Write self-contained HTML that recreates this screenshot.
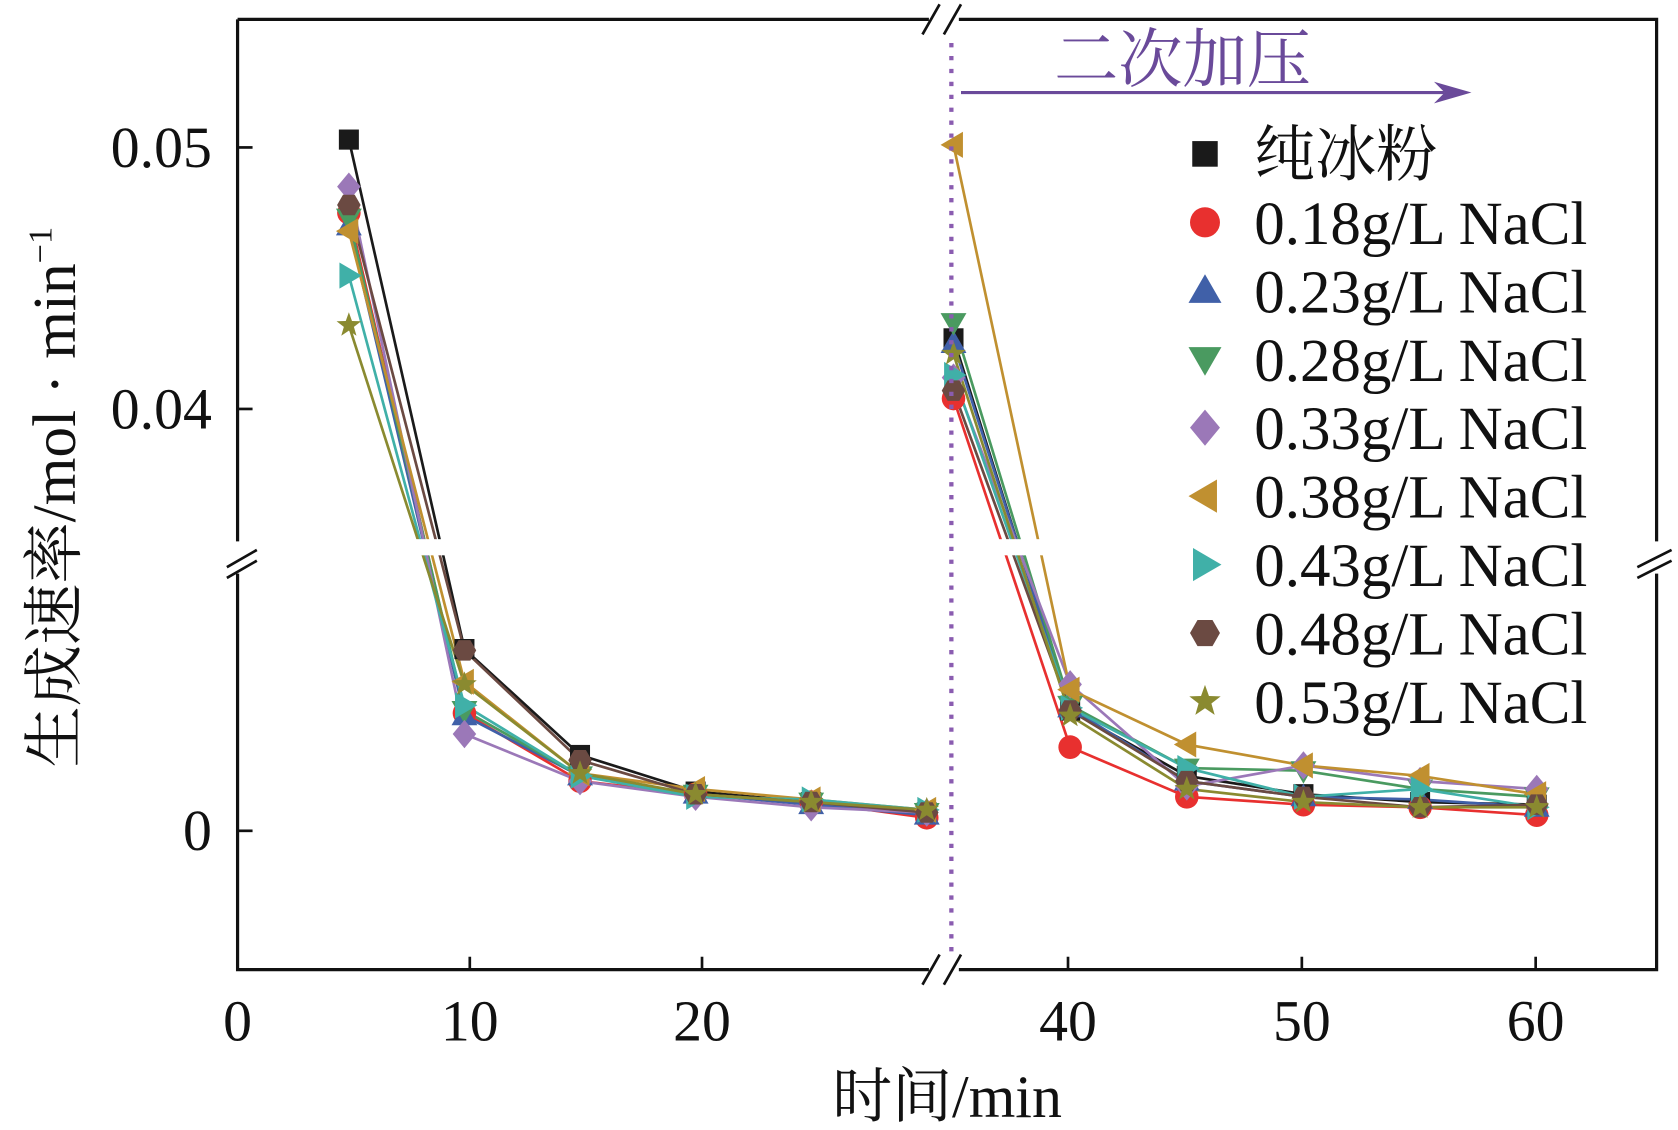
<!DOCTYPE html>
<html><head><meta charset="utf-8"><style>
html,body{margin:0;padding:0;background:#fff;}
svg{display:block;}
text{font-family:"Liberation Serif","Noto Serif CJK SC","Noto Sans CJK SC",serif;}
</style></head><body>
<svg id="chart" width="1678" height="1130" viewBox="0 0 1568 1050" preserveAspectRatio="none" xmlns="http://www.w3.org/2000/svg">
<g id="plot"></g>
<g id="frame" stroke="#111" stroke-width="3" fill="none">
  <path d="M222,18 H868 M896,18 H1548 V503 M1548,533 V901 H896 M868,901 H222 V533 M222,503 V18"/>
  <path d="M862,32 L878,4 M882,32 L898,4 M862,915 L878,887 M882,915 L898,887 M212,527 L240,511 M212,537 L240,521 M1530,527 L1562,511 M1530,537 L1562,521" stroke-width="2.5"/>
</g>
<g id="ticks" stroke="#111" stroke-width="2.5"></g>
<g id="labels" font-size="54" fill="#111"></g>
<text x="885" y="1038" font-size="56" text-anchor="middle" fill="#111">时间/min</text>
<text transform="translate(70,462) rotate(-90)" font-size="57" text-anchor="middle" fill="#111">生成速率/mol · min<tspan font-size="32" dy="-22">−1</tspan></text>
<line x1="889" y1="40" x2="889" y2="890" stroke="#8a5cb0" stroke-width="4" stroke-dasharray="4,8"/>
<text x="1105" y="76" font-size="60" text-anchor="middle" fill="#6a4a9a">二次加压</text>
<g>
<line x1="898" y1="86" x2="1350" y2="86" stroke="#6a4a9a" stroke-width="3"/>
<polygon points="1375,86 1340,76 1350,86 1340,96" fill="#6a4a9a"/>
</g>
<g id="legend"></g>
</svg>
<script>
const names = ["纯冰粉","0.18g/L NaCl","0.23g/L NaCl","0.28g/L NaCl","0.33g/L NaCl","0.38g/L NaCl","0.43g/L NaCl","0.48g/L NaCl","0.53g/L NaCl"];
const colors = ["#1a1a1a","#e8302f","#4060a8","#4a9a60","#9b78b8","#c09030","#40b0a8","#6b4a42","#8a8a30"];
const shapes = ["square","circle","up","down","diamond","left","right","hex","star"];
const times = [5,10,15,20,25,30,35,40,45,50,55,60];
const sPure = [0.0503,0.00695,0.0029,0.0015,0.0011,0.0007,0.0427,0.0046,0.0021,0.0014,0.0011,0.0010];
const s018 = [0.0475,0.0045,0.0019,0.0014,0.0011,0.0005,0.0404,0.0032,0.0013,0.0010,0.0009,0.0006];
const s023 = [0.0470,0.0044,0.0021,0.0014,0.0010,0.0006,0.0425,0.0047,0.0019,0.0013,0.0012,0.0009];
const s028 = [0.0473,0.0046,0.0021,0.0014,0.0011,0.0007,0.0433,0.0048,0.0024,0.0023,0.0016,0.0013];
const s033 = [0.0485,0.0037,0.0019,0.0013,0.0009,0.0007,0.0412,0.0056,0.0017,0.0025,0.0019,0.0016];
const s038 = [0.0468,0.0057,0.0022,0.0016,0.0012,0.0008,0.0501,0.0054,0.0033,0.0025,0.0021,0.0014];
const s043 = [0.0451,0.0048,0.0021,0.0013,0.0012,0.0008,0.0413,0.0047,0.0024,0.0013,0.0016,0.0009];
const s048 = [0.0478,0.0069,0.0027,0.0014,0.0011,0.0007,0.0407,0.0046,0.0019,0.0013,0.0009,0.0010];
const s053 = [0.0432,0.0056,0.0022,0.0014,0.0011,0.0008,0.0421,0.0044,0.0016,0.0011,0.0009,0.0009];
const series = [sPure,s018,s023,s028,s033,s038,s043,s048,s053];
const xTicksLeft = [0,10,20];
const xTicksRight = [40,50,60];
const yTickVals = [0.05,0.04,0];
const yTickLabels = ["0.05","0.04","0"];

const NS="http://www.w3.org/2000/svg";
function xs(t){ return t<=32 ? 222+t*21.6-4 : 1000+(t-40)*21.8; }
function xt(t){ return t<=32 ? 222+t*21.7 : 998+(t-40)*21.85; }
function ys(v){
  if(v>=0.035) return 137+(0.05-v)*24300;
  if(v<=0.0105) return 772-v*24300;
  return 517-(v-0.0105)/(0.035-0.0105)*15.5;
}
function mk(tag,attrs,parent){const e=document.createElementNS(NS,tag);for(const k in attrs)e.setAttribute(k,attrs[k]);parent.appendChild(e);return e;}
function marker(shape,cx,cy,r,color,parent){
  let e;
  const p=(pts)=>mk("polygon",{points:pts.map(a=>a.join(",")).join(" "),fill:color},parent);
  if(shape==="square") e=mk("rect",{x:cx-r*0.85,y:cy-r*0.85,width:r*1.7,height:r*1.7,fill:color},parent);
  else if(shape==="circle") e=mk("circle",{cx:cx,cy:cy,r:r,fill:color},parent);
  else if(shape==="up") e=p([[cx,cy-r*1.1],[cx+r*1.1,cy+r*0.8],[cx-r*1.1,cy+r*0.8]]);
  else if(shape==="down") e=p([[cx,cy+r*1.1],[cx+r*1.1,cy-r*0.8],[cx-r*1.1,cy-r*0.8]]);
  else if(shape==="diamond") e=p([[cx,cy-r*1.2],[cx+r,cy],[cx,cy+r*1.2],[cx-r,cy]]);
  else if(shape==="left") e=p([[cx-r*1.1,cy],[cx+r*0.8,cy-r*1.1],[cx+r*0.8,cy+r*1.1]]);
  else if(shape==="right") e=p([[cx+r*1.1,cy],[cx-r*0.8,cy-r*1.1],[cx-r*0.8,cy+r*1.1]]);
  else if(shape==="hex"){const pts=[];for(let i=0;i<6;i++){const a=Math.PI/3*i;pts.push([cx+r*Math.cos(a),cy+r*Math.sin(a)]);}e=p(pts);}
  else {const pts=[];for(let i=0;i<10;i++){const a=-Math.PI/2+Math.PI/5*i;const rr=i%2?r*0.45:r*1.1;pts.push([cx+rr*Math.cos(a),cy+rr*Math.sin(a)]);}e=p(pts);}
  return e;
}
const plot=document.getElementById("plot");
series.forEach((s,si)=>{
  const g=mk("g",{},plot);
  
  
  [[0,6],[6,12]].forEach(([a,b])=>{
    const pts=[];for(let i=a;i<b;i++)pts.push(xs(times[i])+","+ys(s[i]));
    const pl=mk("polyline",{points:pts.join(" "),fill:"none",stroke:colors[si],"stroke-width":2.5},g);
    
    
  });
});
series.forEach((s,si)=>{
  s.forEach((v,i)=>{
    const m=marker(shapes[si],xs(times[i]),ys(v),11,colors[si],plot);
    
    
  });
});
const gap=mk("rect",{x:240,y:501,width:1290,height:15,fill:"#fff"},plot);



const ticks=document.getElementById("ticks"), labels=document.getElementById("labels");
xTicksLeft.concat(xTicksRight).forEach(t=>{
  const x=xt(t);
  const l=mk("line",{x1:x,y1:901,x2:x,y2:889},ticks);
  
  
  const tx=mk("text",{x:x,y:967,"text-anchor":"middle"},labels);tx.textContent=String(t);
  
  
});
yTickVals.forEach((v,i)=>{
  const y=ys(v);
  const l=mk("line",{x1:222,y1:y,x2:236,y2:y},ticks);
  
  
  const tx=mk("text",{x:198,y:y+18,"text-anchor":"end"},labels);tx.textContent=yTickLabels[i];
  
  
});
const legend=document.getElementById("legend");
names.forEach((n,i)=>{
  const y=143+i*63.6;
  const g=mk("g",{},legend);
  
  
  marker(shapes[i],1126,y,14,colors[i],g);
  const t=mk("text",{x:1172,y:y+20,"font-size":57,fill:"#111"},g);t.textContent=n;
});
</script>
</body></html>
